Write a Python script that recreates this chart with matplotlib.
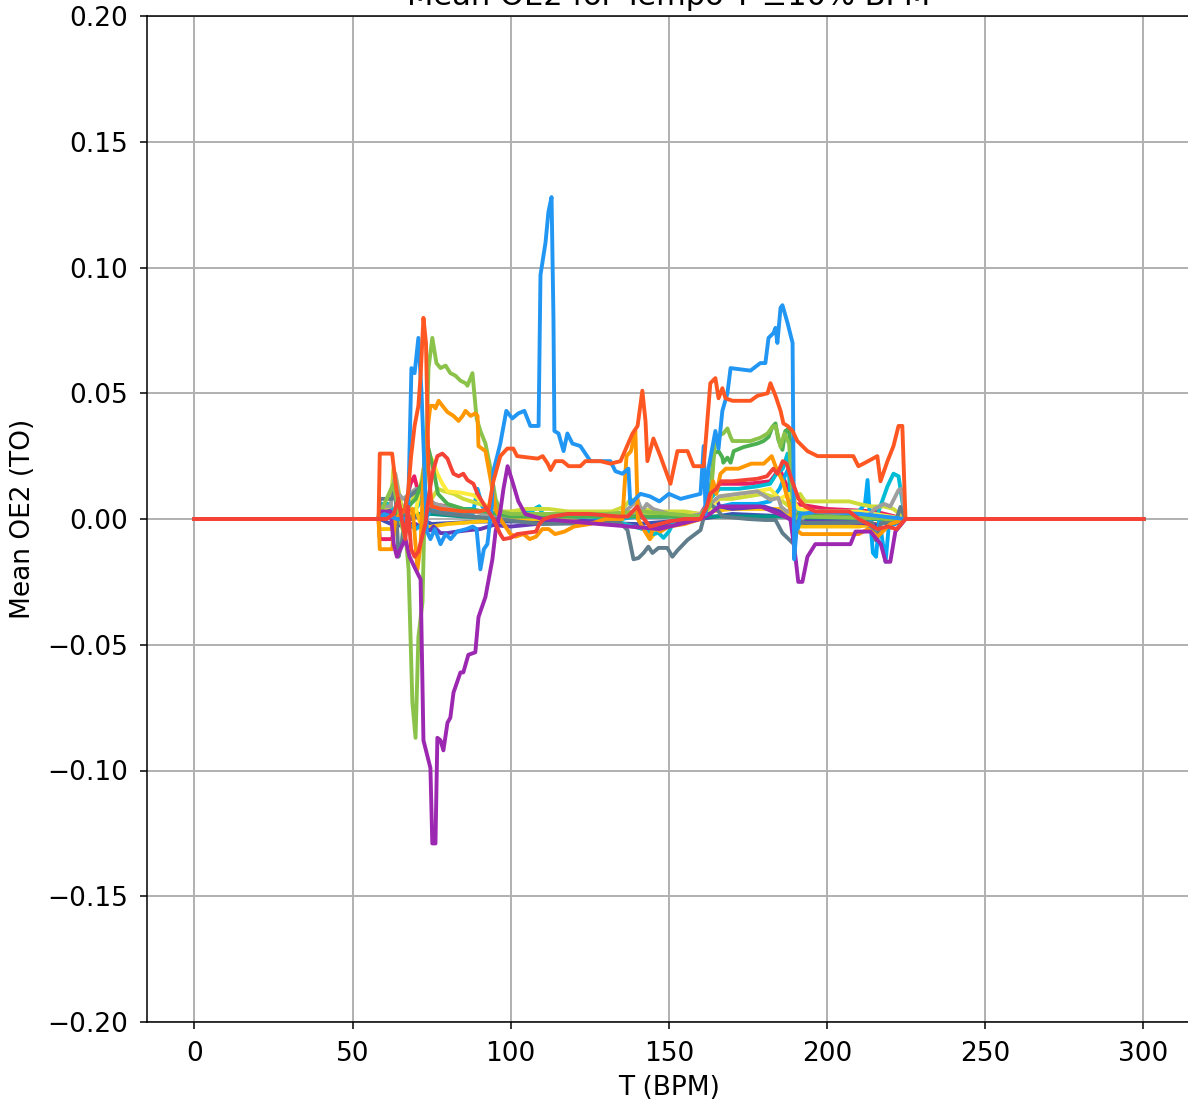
import matplotlib
matplotlib.use("Agg")
import matplotlib.pyplot as plt

# (BPM, mean OE2) vertices, one list per series
indigo = [(0,0),(58.2,0),(58.6,0.0),(64,-0.003),(70,0.001),(75,-0.002),(90,-0.001),(110,-0.001),(140,-0.002),(160,0.0),(170,0.002),(188,0.001),(192,-0.002),(210,-0.002),(218,-0.004),(224.8,0.0),(300,0)]
teal = [(0,0),(58.2,0),(58.6,0.004),(62.5,0.004),(64,0.001),(70,0.002),(75,0.002),(85,0.001),(100,0.0),(130,0.001),(160,0.001),(165,0.001),(188,0.001),(192,0.0),(224.8,0.0),(300,0)]
amber = [(0,0),(58.2,0),(58.6,-0.004),(62.5,-0.004),(64,0.0),(70,0.004),(72,-0.004),(75,-0.003),(80,-0.002),(90,-0.001),(100,0.0),(130,0.0),(142,-0.004),(144,-0.008),(146,-0.005),(150,-0.002),(160,0.0),(163,0.003),(170,0.004),(185,0.004),(188,0.002),(191,-0.003),(210,-0.003),(215,-0.002),(224.8,0.0),(300,0)]
deep_purple = [(0,0),(58.2,0),(58.6,0.003),(62,0.003),(64,0.0),(66,-0.002),(70,-0.002),(72.4,-0.004),(74.6,-0.0045),(75.6,-0.003),(77.8,-0.0056),(80,-0.0056),(81.9,-0.0052),(86.3,-0.0045),(90.4,-0.004),(94.5,-0.0024),(100,-0.003),(108,-0.002),(112,-0.001),(120,-0.001),(130,0.0),(135,-0.002),(140,-0.003),(145,-0.004),(150,-0.002),(160,0.0),(163,0.004),(165,0.008),(166,0.005),(170,0.004),(180,0.005),(185,0.003),(188,0.0),(192,-0.001),(205,-0.001),(215,-0.002),(218,-0.004),(221,-0.002),(224.8,0.0),(300,0)]
pink = [(0,0),(58.2,0),(58.6,-0.008),(62.5,-0.008),(63.5,0.0),(66,0.002),(68.3,0.014),(69.5,0.017),(70.5,0.012),(72,0.008),(75,0.006),(80,0.005),(90,0.003),(100,0.002),(130,0.002),(145,0.003),(160,0.002),(163,0.008),(166,0.014),(175,0.014),(182,0.015),(185,0.020),(187,0.014),(190,0.006),(200,0.004),(215,0.003),(224.8,0.0),(300,0)]
light_blue = [(0,0),(58.2,0),(62,0.001),(65,0.0),(70,-0.004),(72,-0.002),(75,0.004),(80,0.003),(85,0.002),(88,0.002),(89.5,0.012),(91,0.005),(92.5,0.003),(96,0.001),(100,0.002),(105,0.002),(109,0.005),(110,0.002),(120,0.001),(135,0.0),(140,0.001),(150,0.001),(160,0.002),(163,0.004),(170,0.006),(178,0.006),(182,0.007),(185,0.012),(187,0.018),(188.5,0.022),(189.5,-0.008),(190.5,-0.005),(192,0.002),(200,0.003),(210,0.003),(212,0.006),(212.8,0.0155),(213.5,0.002),(214.5,-0.0135),(215.5,-0.015),(216.5,0.0),(218.5,-0.017),(219.5,-0.003),(224.8,0.0),(300,0)]
cyan = [(0,0),(58.2,0),(58.6,0.006),(62,0.006),(63.5,0.0),(66,0.002),(70,0.004),(73,0.010),(75,0.006),(78,0.005),(82,0.004),(88,0.004),(92,0.002),(96,0.001),(100,0.002),(106,0.003),(109,0.005),(110,0.002),(120,0.001),(130,0.001),(136,-0.002),(143.2,-0.0045),(145.1,-0.006),(146.7,-0.0055),(148.3,-0.0075),(150,-0.005),(152,0.0),(160,0.001),(163,0.008),(166,0.012),(172,0.012),(178,0.013),(182,0.014),(184,0.018),(186,0.020),(187.5,0.026),(188.4,0.010),(189.5,0.004),(192,0.003),(200,0.002),(210,0.001),(216,0.002),(219.1,0.013),(221,0.018),(222.6,0.017),(223.8,0.007),(224.8,0.0),(300,0)]
lime = [(0,0),(58.2,0),(60,0.004),(62,0.005),(62.9,0.020),(64,0.015),(65.5,0.005),(67,0.002),(69,0.008),(71,0.012),(73,0.010),(75,0.008),(77,0.012),(79,0.011),(82,0.010),(85,0.008),(90,0.006),(93,0.005),(97,0.003),(100,0.003),(105,0.004),(112,0.004),(118,0.003),(125,0.003),(132,0.003),(136,0.005),(138,0.008),(140,0.005),(142,0.004),(146,0.003),(155,0.003),(160,0.002),(163,0.006),(166,0.008),(170,0.008),(175,0.009),(180,0.010),(185,0.008),(188,0.005),(190,0.008),(191.5,0.010),(193,0.007),(196,0.007),(207,0.007),(210,0.006),(214,0.005),(218,0.005),(221,0.004),(224.8,0.0),(300,0)]
yellow = [(0,0),(58.2,0),(62,0.002),(65,0.001),(70,0.003),(72.4,0.020),(74.0,0.026),(75,0.024),(76.8,0.018),(78.4,0.014),(80,0.011),(84,0.0105),(88.2,0.0095),(92.6,0.005),(94.5,0.0025),(97,0.002),(110,0.002),(125,0.001),(135,0.002),(140,0.003),(150,0.001),(160,0.002),(163,0.004),(166,0.009),(172,0.010),(178,0.011),(182,0.012),(185,0.008),(188,0.010),(191,0.004),(196,0.003),(210,0.003),(220,0.001),(224.8,0.0),(300,0)]
grey = [(0,0),(58.2,0),(59,0.005),(62,0.005),(63.5,0.018),(64.5,0.010),(66,0.008),(68,0.010),(70,0.012),(72,0.010),(74,0.008),(76,0.006),(79,0.005),(83,0.004),(88,0.003),(92,0.002),(96,0.000),(100,0.001),(120,0.001),(135,0.002),(138,0.005),(140,0.008),(141.5,0.003),(143,0.006),(145,0.004),(150,0.002),(156,0.001),(160,0.002),(163,0.006),(166,0.009),(172,0.010),(178,0.011),(182.1,0.0076),(184.6,0.0084),(185.5,0.0048),(187.5,0.0028),(189,0.0048),(191.6,-0.0004),(195,0.003),(208,0.001),(212,0.000),(215,0.004),(218,0.006),(220,0.005),(222.6,0.0115),(223.5,0.012),(224.8,0.0),(300,0)]
blue_grey = [(0,0),(58.2,0),(58.6,0.008),(62.5,0.008),(63.5,0.012),(64.5,-0.015),(65.5,-0.010),(67,0.008),(69,0.010),(71,0.012),(72.5,0.015),(73.5,0.005),(75,0.003),(80,0.002),(88,0.001),(95,0.0),(110,-0.002),(128.4,-0.0016),(134.7,-0.0016),(136.9,-0.0044),(138.8,-0.016),(140.4,-0.0155),(142.0,-0.0135),(143.5,-0.011),(144.8,-0.0135),(146.7,-0.0115),(149.5,-0.0115),(151.1,-0.015),(152.7,-0.0125),(155.9,-0.0083),(160,-0.0044),(161.5,0.003),(163,0.006),(165,0.004),(167,0.001),(175,0.0),(180.5,-0.0004),(183.7,-0.0004),(185.9,-0.0056),(189.1,-0.0095),(190.0,-0.0072),(190.6,-0.0004),(193.2,-0.0016),(211.2,-0.0012),(214.4,-0.0016),(215.3,-0.0084),(217.1,-0.0016),(221.6,-0.0016),(223.2,0.0048),(224.8,0.0),(300,0)]
green = [(0,0),(58.2,0),(62,0.002),(66,0.003),(70,0.008),(72,0.015),(73,0.025),(74,0.028),(75.5,0.020),(77,0.010),(80,0.006),(85,0.004),(92,0.003),(100,0.001),(130,0.001),(160,0.001),(162,0.005),(163.5,0.015),(164.1,0.026),(165.7,0.027),(166.9,0.0245),(167.2,0.0224),(168.5,0.0244),(169.5,0.0224),(170.5,0.027),(173.6,0.0286),(178,0.030),(179.9,0.031),(181.5,0.0326),(182.7,0.0366),(183.7,0.038),(184.6,0.0315),(185.9,0.0275),(186.8,0.035),(187.8,0.0358),(189.1,0.025),(189.5,0.0),(191,0.002),(200,0.001),(224.8,0.0),(300,0)]
light_green = [(0,0),(58.2,0),(59,0.003),(62.9,0.014),(65,0.0),(67,-0.010),(67.7,-0.020),(68.9,-0.073),(69.9,-0.087),(70.8,-0.047),(72.1,-0.033),(72.7,0.0),(74.0,0.060),(75.2,0.072),(76.5,0.062),(77.8,0.060),(79.4,0.061),(80.9,0.058),(82.5,0.057),(84.1,0.055),(85.7,0.054),(86.3,0.053),(87.9,0.058),(89.2,0.040),(90.4,0.035),(92,0.030),(93.6,0.020),(95.2,0.008),(96.7,0.003),(100,0.002),(130,0.002),(141,0.003),(160,0.001),(163,0.005),(164.7,0.0326),(167.2,0.034),(168.5,0.036),(169.5,0.0326),(170.1,0.031),(175.8,0.031),(178.9,0.0323),(181.2,0.034),(182.7,0.0366),(183.7,0.037),(184.6,0.0326),(185.3,0.0286),(186.5,0.034),(188,0.030),(189.5,0.0),(191,0.001),(224.8,0.0),(300,0)]
orange = [(0,0),(58.2,0),(58.6,-0.012),(62.5,-0.012),(63.5,0.0),(66,0.003),(69,0.004),(70.5,-0.020),(71.5,-0.010),(72.5,0.020),(74.0,0.039),(74.6,0.045),(75.6,0.045),(76.2,0.044),(77.2,0.047),(78.4,0.045),(80.0,0.0425),(81.9,0.041),(83.5,0.039),(84.8,0.041),(85.7,0.043),(87.3,0.041),(88.8,0.042),(89.5,0.041),(89.8,0.029),(92.0,0.027),(93.6,0.016),(95.2,0.004),(96.7,0.0),(99.9,-0.006),(101.5,-0.007),(104,-0.006),(106,-0.008),(108,-0.007),(110,-0.004),(112,-0.004),(114,-0.006),(117,-0.005),(120,-0.003),(125,-0.002),(130,0.0),(135.3,0.0),(136.6,0.025),(138,0.027),(139.4,0.035),(140.2,0.0),(142,-0.004),(144,-0.008),(145,-0.003),(147.3,-0.005),(150,-0.003),(155,-0.002),(160,0.0),(163.1,0.008),(164,0.015),(165,0.010),(166.3,0.018),(168,0.020),(172,0.020),(176,0.022),(180,0.022),(182.5,0.025),(184,0.020),(186,0.015),(188,0.006),(190,-0.004),(192,-0.006),(210,-0.006),(213,-0.004),(216,-0.007),(220,-0.002),(224.8,0.0),(300,0)]
purple = [(0,0),(58.2,0),(58.6,0.003),(62,0.003),(63,-0.010),(64,-0.015),(65.1,-0.012),(66.7,-0.008),(68,-0.015),(69.9,-0.020),(71.5,-0.024),(72.4,-0.088),(74.6,-0.099),(75.2,-0.129),(76.2,-0.129),(76.8,-0.087),(77.8,-0.088),(78.7,-0.092),(80.0,-0.081),(80.9,-0.079),(81.9,-0.069),(84.1,-0.061),(85.0,-0.061),(86.6,-0.054),(88.8,-0.053),(89.8,-0.039),(92.0,-0.031),(94.2,-0.016),(95.2,-0.005),(96.7,0.003),(97.7,0.012),(99.0,0.021),(100.5,0.015),(102.4,0.007),(104.6,0.002),(110,0.0),(128,-0.002),(147,-0.004),(160,0.0),(163,0.002),(166,0.005),(179,0.005),(188.4,0.0),(190,-0.015),(190.9,-0.025),(192.2,-0.025),(193.8,-0.015),(196.3,-0.010),(207.4,-0.010),(209,-0.005),(213.7,-0.005),(217,-0.010),(218.5,-0.017),(220,-0.017),(221.6,-0.005),(224.8,0.0),(300,0)]
blue = [(0,0),(58.2,0),(60,0.002),(64,0.0),(67.5,0.0),(68.6,0.060),(69.6,0.058),(70.8,0.072),(71.8,0.050),(72.7,0.020),(73.5,-0.005),(74.6,-0.008),(76,-0.004),(77.8,-0.010),(79.4,-0.006),(81,-0.008),(83,-0.005),(86,-0.004),(88,-0.003),(89.2,-0.004),(90.4,-0.020),(91.5,-0.012),(92.6,-0.010),(94,0.005),(94.5,0.019),(96.7,0.030),(98.6,0.043),(100.5,0.040),(102.4,0.042),(104.3,0.043),(106.2,0.037),(108.8,0.037),(109.4,0.097),(111,0.110),(111.9,0.122),(112.9,0.128),(113.5,0.080),(113.8,0.035),(115.1,0.034),(116.7,0.027),(117.9,0.034),(119.5,0.030),(122,0.029),(123.6,0.026),(125.2,0.023),(131.5,0.023),(133.1,0.019),(135.3,0.018),(137.2,0.020),(137.8,0.006),(139.4,0.008),(141,0.010),(144,0.009),(147,0.007),(150,0.010),(153.7,0.008),(156.8,0.009),(160,0.010),(161,0.029),(161.6,0.002),(162.5,0.020),(164.7,0.035),(165.7,0.028),(166.9,0.043),(168.5,0.050),(169.5,0.060),(175.8,0.059),(178.9,0.062),(180.5,0.062),(181.5,0.072),(183.1,0.074),(183.7,0.076),(184.3,0.070),(185.3,0.084),(185.9,0.085),(187.5,0.078),(189.1,0.070),(189.6,-0.016),(190.3,-0.005),(191.6,0.002),(197.9,0.003),(210.6,0.002),(224.8,0.0),(300,0)]
deep_orange = [(0,0),(58.2,0),(58.6,0.026),(62.5,0.026),(63.8,0.012),(65,0.004),(66.5,0.003),(67.5,0.010),(68.5,0.025),(69.6,0.037),(70.8,0.045),(71.5,0.057),(72.4,0.080),(73.2,0.070),(74.0,0.020),(75,0.005),(78,0.004),(85,0.003),(90,0.003),(93,0.004),(94.5,0.015),(96.7,0.025),(98.9,0.028),(100.8,0.028),(102.0,0.025),(108.5,0.024),(110.1,0.025),(111.7,0.022),(112.6,0.0195),(114.1,0.023),(116.4,0.023),(118.3,0.021),(122.0,0.021),(123.6,0.023),(128.4,0.023),(131.5,0.022),(134.7,0.023),(138.5,0.034),(140.1,0.037),(141.6,0.051),(142.6,0.039),(143.2,0.023),(145.1,0.032),(147.3,0.025),(150.5,0.014),(152.7,0.027),(155.9,0.027),(157.8,0.021),(161.0,0.021),(163.1,0.054),(164.7,0.056),(165.7,0.048),(166.9,0.052),(167.9,0.048),(170.1,0.047),(175.8,0.047),(178.0,0.049),(181.2,0.050),(182.1,0.054),(183.7,0.049),(185.3,0.043),(186.2,0.038),(187.5,0.037),(189.1,0.035),(190.6,0.031),(193.8,0.027),(197.0,0.025),(208.3,0.025),(209.9,0.021),(211.5,0.022),(215.9,0.025),(216.9,0.015),(219.1,0.023),(221.0,0.029),(222.6,0.037),(223.8,0.037),(224.8,0.0),(300,0)]
red = [(0,0),(58.2,0),(60.7,0.0),(63,0.002),(64.5,0.008),(65.5,0.0),(66.7,-0.008),(67.5,0.005),(68.5,-0.012),(69.6,-0.015),(70.8,-0.013),(73.0,-0.002),(74.0,0.008),(75.2,0.018),(76.8,0.025),(78.4,0.026),(80.0,0.024),(80.9,0.021),(81.9,0.018),(83.5,0.017),(85.0,0.018),(86.3,0.0155),(88.2,0.014),(89.5,0.010),(91.4,0.006),(94.5,0.0),(96.7,-0.006),(97.7,-0.008),(100,-0.0075),(102,-0.006),(108,-0.005),(109,-0.002),(110.5,0.0),(113,0.001),(118,0.002),(125,0.002),(134,0.001),(137,0.001),(140,0.005),(141.5,0.001),(144,-0.003),(150,-0.001),(155,0.0),(160,0.0),(162,0.005),(163,0.010),(165,0.012),(166.5,0.015),(170,0.015),(178,0.016),(181,0.017),(183,0.020),(184.3,0.018),(186,0.023),(187.2,0.022),(189,0.015),(191,0.008),(193,0.005),(196.3,0.003),(207,0.003),(210,0.0),(213,-0.002),(216,-0.004),(219,-0.003),(222,-0.004),(224.8,0.0),(300,0)]

series = [
    (indigo, '#3F51B5'), (teal, '#009688'), (amber, '#FFC107'),
    (deep_purple, '#673AB7'), (pink, '#E91E63'), (light_blue, '#03A9F4'),
    (cyan, '#00BCD4'), (lime, '#CDDC39'), (yellow, '#FFEB3B'),
    (grey, '#9E9E9E'), (blue_grey, '#607D8B'), (green, '#4CAF50'),
    (light_green, '#8BC34A'), (orange, '#FF9800'), (purple, '#9C27B0'),
    (blue, '#2196F3'), (deep_orange, '#FF5722'), (red, '#F44336'),
]

yticks = [-0.20, -0.15, -0.10, -0.05, 0.00, 0.05, 0.10, 0.15, 0.20]
xticks = [0, 50, 100, 150, 200, 250, 300]

plt.rcParams['font.family'] = 'DejaVu Sans'
fig = plt.figure(figsize=(11.88, 11.01), dpi=100)
ax = fig.add_axes([147/1188, 79/1101, 1043.8/1188, 1006/1101])

for pts, c in series:
    t = [p[0] for p in pts]
    v = [p[1] for p in pts]
    ax.plot(t, v, color=c, lw=2.8, solid_joinstyle='round')

ax.set_xlim(-15, 315)
ax.set_ylim(-0.2, 0.2)
ax.set_xticks(xticks)
ax.set_yticks(yticks)
ax.set_yticklabels(['\u2212%.2f' % -y if y < 0 else '%.2f' % y for y in yticks])
ax.grid(True, color='#b0b0b0', lw=1.4)
ax.set_axisbelow(True)
for s in ax.spines.values():
    s.set_linewidth(1.1)
ax.tick_params(labelsize=19, length=5, width=1.1, pad=8.5)
ax.set_xlabel('T (BPM)', fontsize=19, labelpad=6)
ax.set_ylabel('Mean OE2 (TO)', fontsize=19, labelpad=8)
ax.set_title('Mean OE2 for Tempo T \u00b110% BPM', fontsize=22, pad=8)

fig.savefig('out.png', dpi=100)
